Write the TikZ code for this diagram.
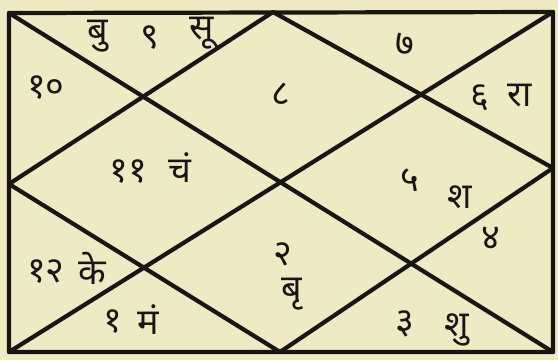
\documentclass[tikz,border=0pt]{standalone}
\usepackage{fontspec}
\newfontfamily\dev[Script=Devanagari]{Noto Sans}
\definecolor{paper}{RGB}{238,235,196}
\definecolor{ink}{RGB}{24,22,18}
\begin{document}
\begin{tikzpicture}[x=1pt,y=-1pt,
  chartline/.style={draw=ink,line width=4.2pt,line cap=round,line join=round},
  lbl/.style={text=ink,inner sep=0pt,font=\dev\bfseries\fontsize{36}{40}\selectfont}]
\useasboundingbox (0,0) rectangle (558,360);
\fill[paper] (0,0) rectangle (558,360);
% corners and midpoints
\coordinate (tl) at (9,13);
\coordinate (tr) at (553,12);
\coordinate (br) at (553,352);
\coordinate (bl) at (9,352);
\coordinate (tm) at (273,12);
\coordinate (rm) at (553,168);
\coordinate (bm) at (280,352);
\coordinate (lm) at (9,184);
\draw[chartline] (tl) -- (tr) -- (br) -- (bl) -- cycle;
\draw[chartline] (tl) -- (br);
\draw[chartline] (tr) -- (bl);
\draw[chartline] (tm) -- (rm) -- (bm) -- (lm) -- cycle;
% labels
\node[lbl] (h9a) at (98,36) {बु};
\node[lbl] (h9b) at (150,38) {९};
\node[lbl] (h9c) at (202,33) {सू};
\node[lbl] (h10) at (46,88) {१०};
\node[lbl] (h8) at (281,94) {८};
\node[lbl] (h7) at (405,44) {७};
\node[lbl] (h6) at (480,98) {६};
\node[lbl] (h6p) at (520,96) {रा};
\node[lbl] (h11) at (128,172) {११};
\node[lbl] (h11p) at (180,168) {चं};
\node[lbl] (h5) at (410,180) {५};
\node[lbl] (h5p) at (460,197) {श};
\node[lbl] (h12) at (46,272) {१२};
\node[lbl] (h12p) at (92,268) {के};
\node[lbl] (h2) at (283,254) {२};
\node[lbl] (h2p) at (292,294) {बृ};
\node[lbl] (h4) at (491,238) {४};
\node[lbl] (h1) at (113,322) {१};
\node[lbl] (h1p) at (148,320) {मं};
\node[lbl] (h3) at (405,324) {३};
\node[lbl] (h3p) at (457,330) {शु};
\end{tikzpicture}
\end{document}
